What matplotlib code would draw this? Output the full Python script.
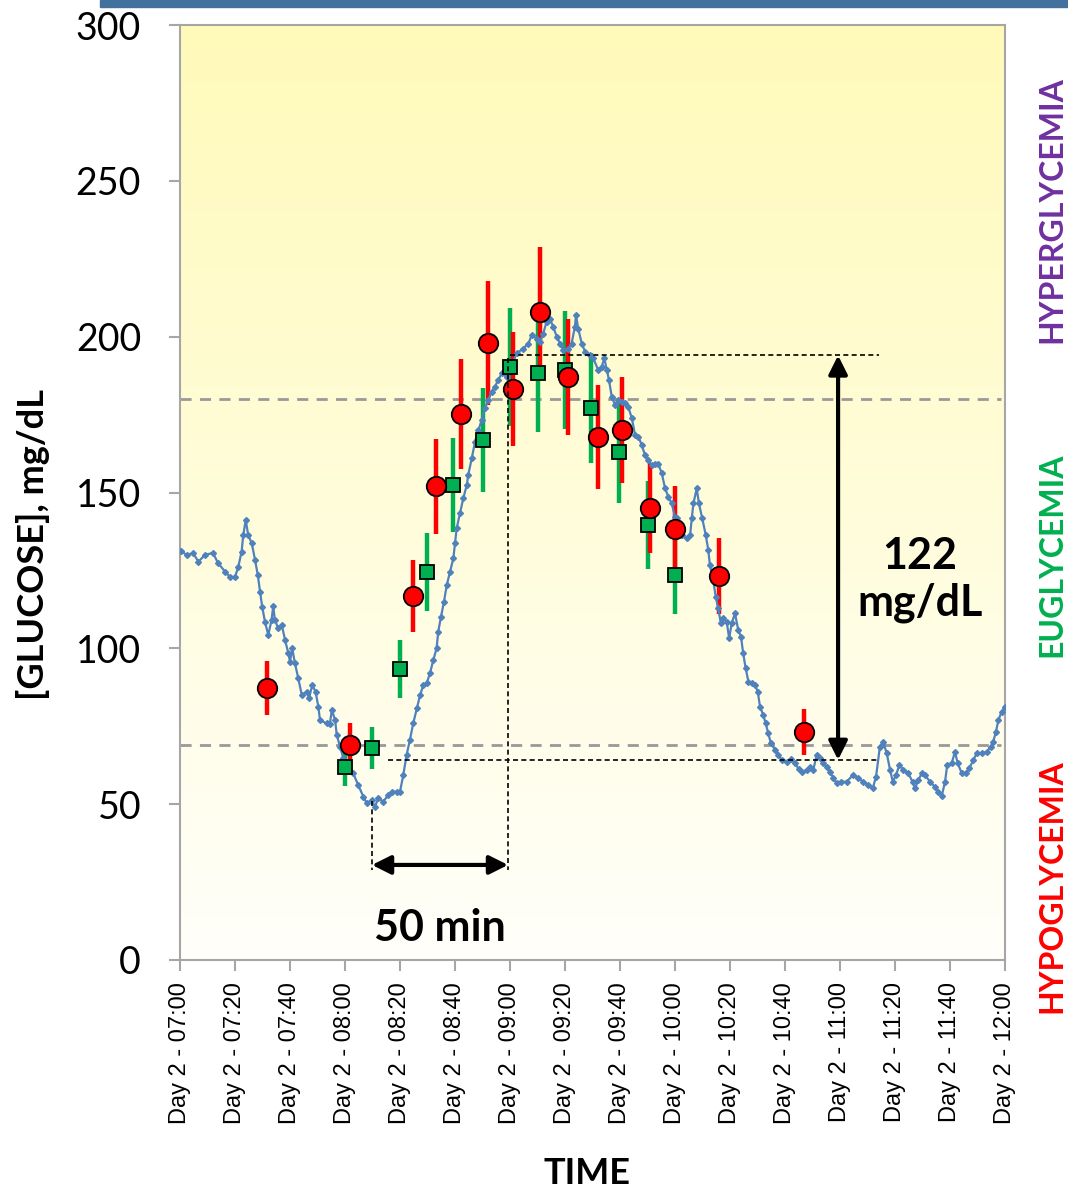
import numpy as np
import matplotlib
matplotlib.use("Agg")
import matplotlib.pyplot as plt
from matplotlib.patches import Rectangle

# CGM trace: minutes after 07:00, glucose mg/dL
cgm_min = [0.4, 2.4, 4.8, 6.7, 9.1, 12, 13.8, 16.4, 18.2, 20, 21.2, 22.4, 23, 23.9, 24.8,
           26.1, 27.3, 28.3, 29.1, 29.9, 30.9, 32.1, 33.3, 33.9, 34.5, 35.7, 37, 38.2,
           39.4, 40, 40.8, 41.8, 43, 44.3, 46.1, 46.9, 48.1, 49.3, 50.3, 50.9, 53.3,
           54.5, 55.2, 56.4, 57, 58.2, 59.4,
           60.6, 63, 64.8, 66.7, 67.9, 69.7, 70.9, 72.1, 73.9, 75.7, 77, 78.8, 80, 81.2,
           82.4, 83.6, 84.8, 86.1, 87.3, 88.5, 89.7, 90.9, 92.1, 93.3, 93.9, 94.9, 96,
           97, 98.2, 99.4, 100, 100.6, 101.8, 103, 104.3, 104.8, 106.1, 107.3, 108.5,
           109.7, 110.9, 112.1, 113.3, 114.5, 115.7, 117,
           118.8, 122.4, 124.8, 126.7, 127.9, 129.7, 130.9, 132.1, 133.3, 134.5, 135.7,
           137, 138.2, 139.4, 141.2, 142.4, 143.6, 144, 144.8, 146.1, 147.3, 149.1,
           150.3, 152.1, 153.3, 154.3, 155.2, 156, 157, 158.2, 159.4, 160.6, 161.8, 163,
           164.3, 165.5, 166.7, 167.9, 169.1, 170.3, 171.5, 172.7, 173.9, 175.2, 176.4,
           177.6, 178.8, 180,
           180.6, 182.4, 184.3, 185.5, 186.1, 186.7, 187.9, 188.7, 189.9, 191.2, 192.1,
           192.7, 193.9, 194.8, 195.7, 196.7, 197.6, 198.8, 199.7, 200.6, 201.8, 203,
           204, 204.8, 205.7, 206.7, 207.9, 209.1, 210.1, 210.9, 212.1, 213, 213.9,
           214.9, 216.4, 217.6, 218.8, 220.6, 222.2, 223.6, 225.1, 226.3, 227.9, 229.1,
           230.3, 231.5, 232.7, 233.9, 235.2, 236.4, 237.6, 238.8, 240.3,
           242.4, 244.8, 246.7, 248.5, 250.3, 251.9, 253.1, 254.5, 255.7, 257, 258.2,
           259.2, 260.4, 261.6, 263, 264.8, 266.4, 267.3, 268.5, 269.7, 270.9, 272.7,
           274.5, 275.7, 277, 278.2, 279, 280.6, 281.8, 282.8, 284.3, 285.7, 287, 288.5,
           289.7, 291.6, 293.3, 294.8, 295.7, 296.7, 297.6, 298.8, 300]
cgm_val = [131.2, 130, 130.5, 127.8, 130, 130.6, 127.4, 124.6, 122.9, 122.9, 126.2, 131,
           136.3, 141.2, 136.3, 133.7, 128.3, 123.5, 118.2, 113.3, 108.5, 104.3, 109.1,
           113.6, 109.1, 106.4, 107.5, 102.7, 98.4, 95.7, 100, 95.2, 90.4, 85, 86.1, 84,
           88.2, 86.1, 81.3, 77, 75.9, 75.7, 80.2, 77, 72.2, 68.4, 64.7,
           63.1, 59.9, 56.1, 52.4, 50.3, 51.3, 49.2, 51.9, 50.8, 52.9, 54, 54, 54, 59.4,
           65.8, 70.6, 75.9, 80.7, 85, 88.2, 88.8, 92, 96.2, 100, 105.3, 110.1, 115,
           120.3, 124.6, 128.9, 133.7, 138.5, 143.3, 148.1, 152.4, 155.6, 161, 166.3,
           170, 173.2, 177, 179.7, 182.3, 183.9, 186.1, 188.2,
           187.1, 194.6, 196.2, 197.8, 200.5, 199.4, 198.4, 201, 204.8, 205.8, 203.2,
           200, 197.8, 195.7, 196.2, 197.8, 203.2, 206.9, 202.6, 197.8, 195.2, 194.1,
           193, 189.3, 190.3, 193, 189.3, 186.1, 180.7, 178.1, 179.7, 179.1, 178.6,
           177.5, 173.8, 168.4, 167.9, 165.2, 162, 160.4, 158.8, 159.3, 159.3, 156.1,
           151.3, 148.6, 146.5, 142.2,
           141.7, 136.3, 135.3, 136.3, 141.7, 146.5, 151.3, 146.5, 141.7, 136.3, 131.5,
           126.7, 121.9, 116.6, 112.8, 108, 109.6, 108.5, 103.2, 108, 111.2, 105.9,
           103.7, 98.4, 93.6, 89.3, 88.8, 88.2, 86.1, 81.3, 78.6, 75.9, 72.7, 69.5,
           67.4, 65.8, 64.2, 63.6, 64.4, 63.1, 61.2, 60.4, 60.9, 62, 61, 65.8, 64.7,
           63.1, 62, 60.4, 58.3, 56.7, 57.2,
           57.2, 59.4, 58.3, 57.2, 56.1, 55.1, 58.8, 68.4, 70, 66.3, 61, 57.2, 59.4,
           62.6, 61, 59.9, 57.2, 55.1, 57.7, 59.9, 59.4, 57.2, 55.6, 54, 52.6, 57.2,
           62.6, 63.1, 66.8, 63.1, 59.9, 59.9, 61.5, 64.2, 66.3, 66.3, 66.8, 68.4, 70,
           73.2, 77, 79.7, 81.3]

# sensor estimates (red circles) with error
red_min = [31.6, 61.8, 84.7, 93.1, 102.2, 112, 121.1, 130.9, 141.1, 152, 160.7, 170.9,
           180, 196, 226.9]
red_val = [87.3, 69, 116.8, 152, 175.2, 198, 183.2, 207.9, 187, 167.8, 170, 145, 138.3,
           123.2, 73.1]
red_err = [8.7, 6.9, 11.7, 15.2, 17.5, 19.8, 18.3, 20.8, 18.7, 16.8, 17, 14.5, 13.8,
           12.3, 7.3]

# reference measurements (green squares) with error
grn_min = [60, 69.8, 80, 89.8, 99.3, 110.2, 120, 130.2, 140, 149.5, 159.6, 170.2, 180]
grn_val = [62, 68, 93.4, 124.5, 152.4, 166.8, 190.2, 188.3, 189.3, 177.1, 163, 139.6, 123.5]
grn_err = [6.2, 6.8, 9.3, 12.5, 15.2, 16.7, 19, 18.8, 18.9, 17.7, 16.3, 14, 12.4]

tick_min = list(range(0, 301, 20))
tick_lab = ["Day 2 - %02d:%02d" % (7 + m // 60, m % 60) for m in tick_min]

hyper_lim = 180
hypo_lim = 69

W, H = 1068, 1191
fig = plt.figure(figsize=(W / 100, H / 100), dpi=100)
ax = fig.add_axes([180 / W, 1 - 960 / H, 825 / W, 935 / H])

# yellow-to-white background gradient
grad = np.linspace(0, 1, 256).reshape(-1, 1)
top = np.array([255, 250, 185]) / 255
bot = np.array([255, 255, 250]) / 255
img = top + (bot - top) * grad[..., None]
ax.imshow(img, extent=[0, 1, 0, 1], transform=ax.transAxes, aspect="auto", zorder=0)

ax.set_xlim(0, 300)
ax.set_ylim(0, 300)

ax.axhline(hyper_lim, xmax=0.995, color="#999999", lw=2, ls=(0, (4, 3)), zorder=1)
ax.axhline(hypo_lim, xmax=0.995, color="#999999", lw=2, ls=(0, (4, 3)), zorder=1)

ax.errorbar(grn_min, grn_val, yerr=grn_err, fmt="none", ecolor="#00B050", elinewidth=3.2,
            capsize=0, zorder=2)
ax.errorbar(red_min, red_val, yerr=red_err, fmt="none", ecolor="#FF0000", elinewidth=3.2,
            capsize=0, zorder=2)

ax.plot(cgm_min, cgm_val, color="#4F81BD", lw=1.6, marker="D", ms=3, zorder=3)

ax.plot(grn_min, grn_val, ls="none", marker="s", ms=10, mfc="#00B050", mec="black",
        mew=1.3, zorder=4)
ax.plot(red_min, red_val, ls="none", marker="o", ms=14, mfc="#FF0000", mec="black",
        mew=1.3, zorder=5)

# annotations: dashed guides and arrows
dash = dict(color="black", lw=1.2, ls=(0, (3, 2)), zorder=6)
ax.plot([120, 254], [194, 194], **dash)
ax.plot([75.5, 254], [64.2, 64.2], **dash)
ax.plot([69.8, 69.8], [51, 29], **dash)
ax.plot([119.3, 119.3], [193, 29], **dash)

arrow = dict(arrowstyle="<|-|>", color="black", lw=3, mutation_scale=28,
             shrinkA=0, shrinkB=0)
ax.annotate("", xy=(69.8, 30.5), xytext=(119.3, 30.5), arrowprops=arrow, zorder=7)
ax.annotate("", xy=(239.3, 194), xytext=(239.3, 64.2), arrowprops=arrow, zorder=7)

ax.text(94.5, 10.3, "50 min", ha="center", va="center", fontsize=31,
        fontweight="bold", family="Lato", zorder=8)
ax.text(269, 122, "122\nmg/dL", ha="center", va="center", fontsize=31,
        fontweight="bold", family="Lato", linespacing=1.2, zorder=8)

# axes styling
for s in ax.spines.values():
    s.set_color("#A6A6A6")
    s.set_linewidth(1.5)
ax.set_yticks(range(0, 301, 50))
ax.set_xticks(tick_min)
ax.set_xticklabels(tick_lab, rotation=90, fontsize=17, family="Liberation Sans")
for lab in ax.get_yticklabels():
    lab.set_fontsize(27)
    lab.set_family("Lato")
ax.tick_params(axis="both", color="#A6A6A6", width=1.5, length=8, direction="out")
ax.tick_params(axis="y", pad=20)
ax.tick_params(axis="x", pad=8)

fig.text(33 / W, 1 - 545 / H, "[GLUCOSE], mg/dL", rotation=90, ha="center", va="center",
         fontsize=26, fontweight="bold", family="Lato")
fig.text(587 / W, 1 - 1173 / H, "TIME", ha="center", va="center", fontsize=26,
         fontweight="bold", family="Lato")

fig.text(1052 / W, 1 - 210 / H, "HYPERGLYCEMIA", rotation=90, ha="center", va="center",
         fontsize=23, fontweight="bold", family="Lato", color="#7030A0")
fig.text(1052 / W, 1 - 555 / H, "EUGLYCEMIA", rotation=90, ha="center", va="center",
         fontsize=23, fontweight="bold", family="Lato", color="#00B050")
fig.text(1052 / W, 1 - 886 / H, "HYPOGLYCEMIA", rotation=90, ha="center", va="center",
         fontsize=23, fontweight="bold", family="Lato", color="#FF0000")

# header bar
fig.patches.append(Rectangle((100 / W, 1 - 7 / H), 1 - 100 / W, 7 / H,
                             transform=fig.transFigure, color="#41719C"))

fig.savefig("out.png", dpi=100)
